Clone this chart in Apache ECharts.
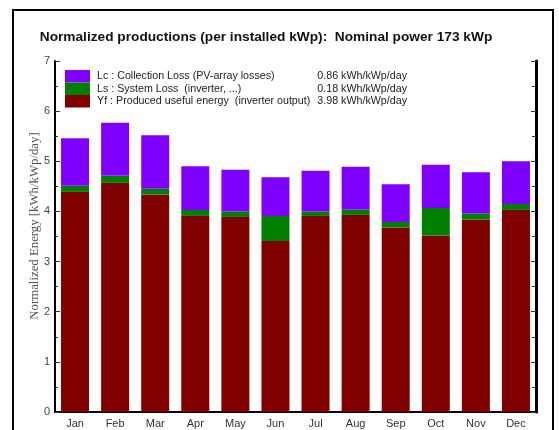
<!DOCTYPE html>
<html><head><meta charset="utf-8">
<script src="https://cdn.jsdelivr.net/npm/echarts@6/dist/echarts.min.js"></script>
<style>html,body{margin:0;padding:0;background:#fff}#c{width:559px;height:430px}</style>
</head><body><div id="c"></div>
<script>
var months = ['Jan','Feb','Mar','Apr','May','Jun','Jul','Aug','Sep','Oct','Nov','Dec'];
var yf = [4.39,4.57,4.34,3.91,3.89,3.41,3.91,3.93,3.68,3.52,3.84,4.03];
var ls = [0.12,0.14,0.11,0.12,0.11,0.50,0.09,0.11,0.11,0.55,0.12,0.12];
var lc = [0.95,1.06,1.07,0.87,0.83,0.77,0.81,0.85,0.75,0.86,0.82,0.85];
var seriesNames = ['Lc : Collection Loss (PV-array losses)','Ls : System Loss  (inverter, ...)','Yf : Produced useful energy  (inverter output)'];
var seriesAvg = ['0.86 kWh/kWp/day','0.18 kWh/kWp/day','3.98 kWh/kWp/day'];
var yTicks = [0,1,2,3,4,5,6,7];

var chart = echarts.init(document.getElementById('c'), null, {renderer:'canvas'});
var avgMap = {};
seriesNames.forEach(function(n,i){avgMap[n]=seriesAvg[i];});
var axisFont = 'Arial, "Liberation Sans", sans-serif';
chart.setOption({
  animation:false,
  title:{text:'Normalized productions (per installed kWp):  Nominal power 173 kWp',left:261,top:25,textAlign:'center',
    textStyle:{fontFamily:axisFont,fontSize:13.7,fontWeight:'bold',color:'#111'}},
  grid:{left:55,top:61,right:23,bottom:18,containLabel:false},
  legend:{orient:'vertical',left:65,top:70,padding:0,itemWidth:25,itemHeight:12.5,itemGap:0,icon:'rect',selectedMode:false,
    data:[seriesNames[0],seriesNames[1],seriesNames[2]],
    formatter:function(n){return '{a|'+n+'}{b|'+avgMap[n]+'}';},
    textStyle:{fontFamily:axisFont,fontSize:10.7,color:'#222',padding:[0,0,0,2],
      rich:{a:{width:220,fontFamily:axisFont,fontSize:10.7,color:'#222'},b:{width:90,align:'right',fontFamily:axisFont,fontSize:10.7,color:'#222'}}}},
  xAxis:[{type:'category',data:months,position:'bottom',boundaryGap:true,
      axisLine:{lineStyle:{color:'#000',width:2}},
      axisTick:{inside:true,length:5,lineStyle:{color:'#555'}},
      axisLabel:{fontFamily:axisFont,fontSize:11,color:'#333',margin:6}},
    {type:'category',data:months,position:'top',boundaryGap:true,
      axisLine:{lineStyle:{color:'#000',width:2}},
      axisTick:{inside:true,length:5,lineStyle:{color:'#333'}},
      axisLabel:{show:false}}],
  yAxis:[{type:'value',min:0,max:7,interval:1,position:'left',
      axisLine:{show:true,lineStyle:{color:'#000',width:2}},
      axisTick:{show:true,inside:true,length:5,lineStyle:{color:'#333'}},
      minorTick:{show:true,splitNumber:2,length:3,lineStyle:{color:'#333'}},
      splitLine:{show:false},
      axisLabel:{fontFamily:axisFont,fontSize:11,color:'#444',margin:5,
        formatter:function(v){return yTicks.indexOf(v)>=0?String(v):'';}}},
    {type:'value',min:0,max:7,interval:1,position:'right',
      axisLine:{show:true,lineStyle:{color:'#000',width:3}},
      axisTick:{show:true,inside:true,length:5,lineStyle:{color:'#333'}},
      minorTick:{show:true,splitNumber:2,length:4,lineStyle:{color:'#333'}},
      splitLine:{show:false},axisLabel:{show:false}}],
  graphic:[
    {type:'rect',shape:{x:13,y:10,width:540,height:440},style:{fill:'none',stroke:'#000',lineWidth:2},z:-1},
    {type:'text',x:35,y:226,rotation:Math.PI/2,style:{text:'Normalized Energy [kWh/kWp/day]',font:'12.8px "Liberation Serif", "Times New Roman", serif',fill:'#555',textAlign:'center',textVerticalAlign:'middle'}}
  ],
  series:[
    {name:seriesNames[2],type:'bar',stack:'e',data:yf,barWidth:28,itemStyle:{color:'#800000'}},
    {name:seriesNames[1],type:'bar',stack:'e',data:ls,barWidth:28,itemStyle:{color:'#008000'}},
    {name:seriesNames[0],type:'bar',stack:'e',data:lc,barWidth:28,itemStyle:{color:'#8000FF'}}
  ]
});
</script></body></html>
